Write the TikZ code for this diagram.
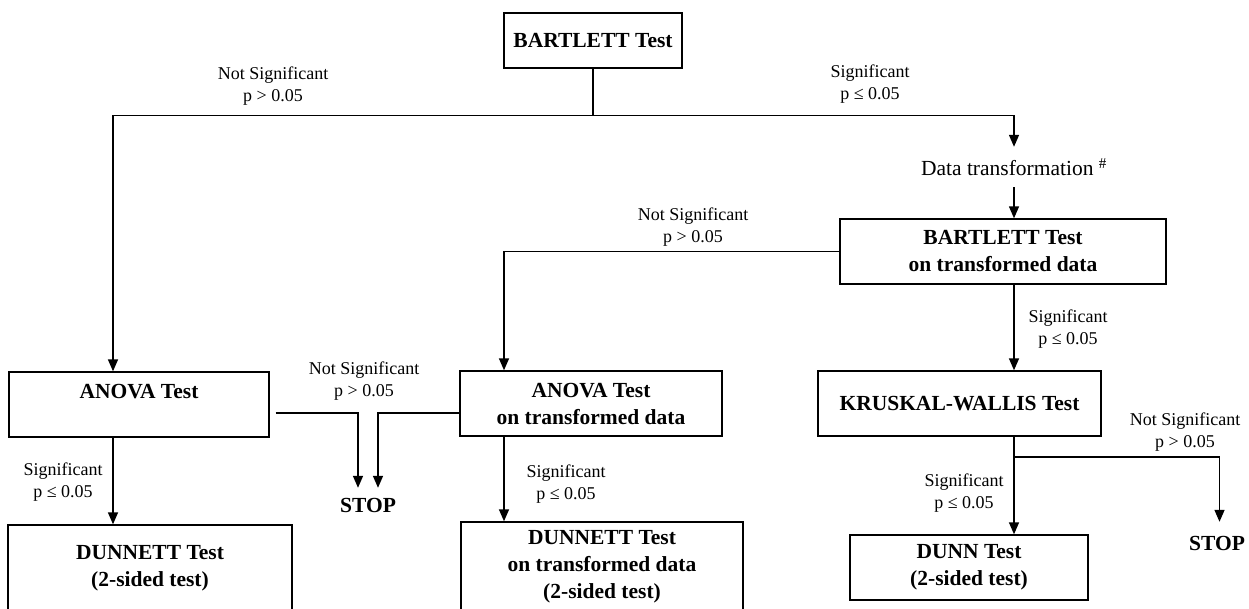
\documentclass[tikz,border=0pt]{standalone}
\usepackage{fontspec}
\setmainfont{Liberation Serif}
\usetikzlibrary{arrows.meta}
\begin{document}
\begin{tikzpicture}[x=1pt,y=-1pt,
  box/.style={draw, line width=1.4pt, inner sep=0pt, align=center,
    font=\fontsize{21.5}{27}\selectfont\bfseries},
  lab/.style={inner sep=0pt, align=center, font=\fontsize{18}{22}\selectfont},
  conn/.style={line width=1.5pt},
  arr/.style={conn, -{Triangle[width=10pt,length=12pt]}},
  stoptxt/.style={inner sep=0pt, font=\fontsize{21.5}{27}\selectfont\bfseries}]
\useasboundingbox (0,0) rectangle (1249,608);
\clip (0,0) rectangle (1249,608);

% boxes
\node[box, minimum width=178pt, minimum height=55pt] (bart) at (593,40.5) {BARTLETT Test};
\node[box, minimum width=260pt, minimum height=65pt] (anova) at (139,404.5) {ANOVA Test\\\mbox{}};
\node[box, minimum width=262pt, minimum height=65pt] (anova2) at (591,403.5) {ANOVA Test\\on transformed data};
\node[box, minimum width=326pt, minimum height=65pt] (bart2) at (1003,251.5) {BARTLETT Test\\on transformed data};
\node[box, minimum width=283pt, minimum height=65pt] (kw) at (959.5,403.5) {KRUSKAL-WALLIS Test};
\node[box, minimum width=284pt, minimum height=87pt] (dunnett) at (150,568.5) {DUNNETT Test\\(2-sided test)};
\node[box, minimum width=282pt, minimum height=90pt] (dunnett2) at (602,567) {DUNNETT Test\\on transformed data\\(2-sided test)};
\node[box, minimum width=238pt, minimum height=65pt] (dunn) at (969,567.5) {DUNN Test\\(2-sided test)};
\node[inner sep=0pt, minimum height=40pt, font=\fontsize{21.5}{27}\selectfont] (datatr) at (1014,167) {Data transformation \textsuperscript{\#}};
\node[stoptxt, minimum height=34pt] (stop1) at (368,505) {STOP};
\node[stoptxt, minimum height=42pt] (stop2) at (1217,543) {STOP};

% labels
\node[lab] (l1) at (273,86) {Not Significant\\p > 0.05};
\node[lab] (l2) at (870,84) {Significant\\p ≤ 0.05};
\node[lab] (l3) at (693,227) {Not Significant\\p > 0.05};
\node[lab] (l4) at (1068,329) {Significant\\p ≤ 0.05};
\node[lab] (l5) at (364,381) {Not Significant\\p > 0.05};
\node[lab] (l6) at (63,482) {Significant\\p ≤ 0.05};
\node[lab] (l7) at (566,484) {Significant\\p ≤ 0.05};
\node[lab] (l8) at (1185,432) {Not Significant\\p > 0.05};
\node[lab] (l9) at (964,493) {Significant\\p ≤ 0.05};

% helper coordinates
\coordinate (j1) at (593,115.7);
\coordinate (j2) at (1014,457);
\coordinate (a1) at ([xshift=-26pt]anova.south);
\coordinate (a2) at ([xshift=-87pt]anova2.south);

% connectors
\draw[conn] (bart.south) -- (j1);
\draw[arr] (j1) -| ([xshift=-26pt]anova.north);
\draw[arr] (j1) -| (datatr.north);
\draw[arr] (datatr.south) -- (datatr.south |- bart2.north);
\draw[arr] (bart2.west) -| ([xshift=-87pt]anova2.north);
\draw[arr] (datatr.south |- bart2.south) -- (datatr.south |- kw.north);
\draw[conn] (j2 |- kw.south) -- (j2);
\draw[arr] (j2) -- (j2 |- dunn.north);
\draw[arr] (j2) -| ([xshift=2.5pt]stop2.north);
\draw[arr] ([shift={(6pt,-8.5pt)}]anova.east) -| ([xshift=-10pt]stop1.north);
\draw[arr] ([yshift=-9.5pt]anova2.west) -| ([xshift=10pt]stop1.north);
\draw[arr] (a1) -- (a1 |- dunnett.north);
\draw[arr] (a2) -- (a2 |- dunnett2.north);
\end{tikzpicture}
\end{document}
